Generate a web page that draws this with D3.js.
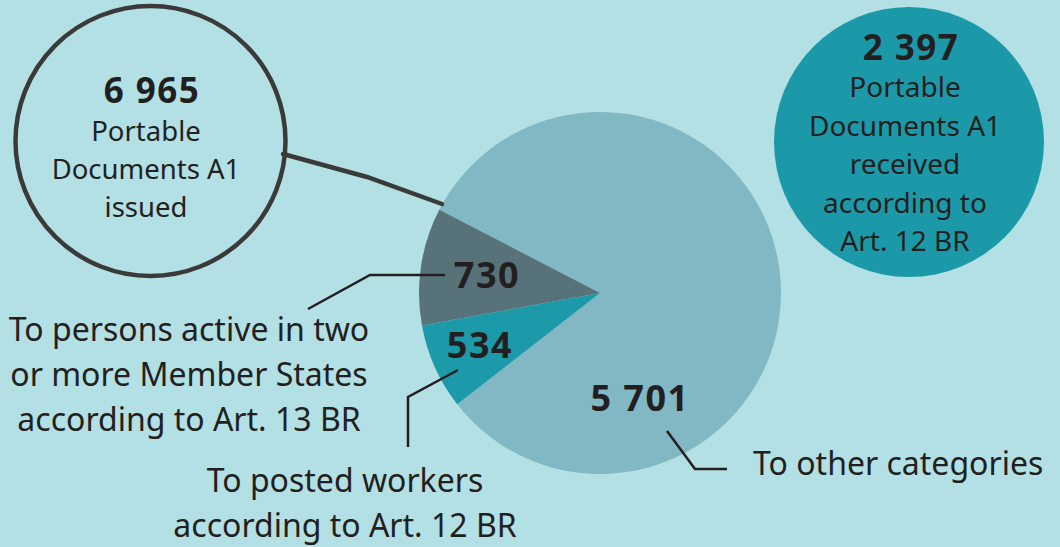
<!DOCTYPE html>
<html>
<head>
<meta charset="utf-8">
<script src="https://cdn.jsdelivr.net/npm/d3@7"></script>
<style>
  html, body { margin: 0; padding: 0; background: #b2e0e5; }
  svg { display: block; font-family: "Noto Sans", sans-serif; }
  .num { font-weight: 700; fill: #231f20; letter-spacing: 1.5px; }
  .lbl { fill: #231f20; }
</style>
</head>
<body>
<div id="chart"></div>
<script>
const categories = ["To other categories", "To posted workers according to Art. 12 BR", "To persons active in two or more Member States according to Art. 13 BR"];
const sliceValues = [5701, 534, 730];
const sliceColors = ["#82b8c4", "#1c9aa9", "#577379"];
const issuedTotal = 6965;
const receivedTotal = 2397;

const width = 1060;
const height = 547;
const cx = 600, cy = 293, radius = 181;

const fmt = d3.formatLocale({ decimal: ",", thousands: "\u00a0", grouping: [3], currency: ["", ""] }).format(",d");

const svg = d3.select("#chart")
    .append("svg")
    .attr("width", width)
    .attr("height", height);

svg.append("rect")
    .attr("width", width)
    .attr("height", height)
    .attr("fill", "#b2e0e5");

// pie: big slice starts at the upper-left edge, goes clockwise round
const start = 297.4 * Math.PI / 180;
const pie = d3.pie()
    .value(d => d)
    .sort(null)
    .startAngle(start)
    .endAngle(start + 2 * Math.PI);

const arc = d3.arc()
    .innerRadius(0)
    .outerRadius(radius);

const pieGroup = svg.append("g")
    .attr("transform", `translate(${cx}, ${cy})`);

pieGroup.selectAll("path")
    .data(pie(sliceValues))
    .enter()
    .append("path")
    .attr("d", arc)
    .attr("fill", (d, i) => sliceColors[i]);

// slice numbers
const numPos = [[640, 411], [480, 358], [487, 288]];
svg.selectAll(".slice-num")
    .data(sliceValues)
    .enter()
    .append("text")
    .attr("class", "num slice-num")
    .attr("x", (d, i) => numPos[i][0])
    .attr("y", (d, i) => numPos[i][1])
    .attr("text-anchor", "middle")
    .style("font-size", "36px")
    .text(d => fmt(d));

// left circle (issued)
svg.append("circle")
    .attr("cx", 150.5)
    .attr("cy", 141)
    .attr("r", 135)
    .attr("fill", "none")
    .attr("stroke", "#3a3a3a")
    .attr("stroke-width", 4.5);

svg.append("path")
    .attr("d", "M283,154 L367,177 L442,204")
    .attr("fill", "none")
    .attr("stroke", "#3a3a3a")
    .attr("stroke-width", 4.5)
    .attr("stroke-linecap", "round");

svg.append("text")
    .attr("class", "num")
    .attr("x", 152)
    .attr("y", 103)
    .attr("text-anchor", "middle")
    .style("font-size", "35px")
    .text(fmt(issuedTotal));

["Portable", "Documents A1", "issued"].forEach((t, i) => {
    svg.append("text")
        .attr("class", "lbl")
        .attr("x", 146)
        .attr("y", 141 + i * 38)
        .attr("text-anchor", "middle")
        .style("font-size", "27.5px")
        .text(t);
});

// right circle (received)
svg.append("circle")
    .attr("cx", 909)
    .attr("cy", 142)
    .attr("r", 135)
    .attr("fill", "#1c99a8");

svg.append("text")
    .attr("class", "num")
    .attr("x", 911)
    .attr("y", 60)
    .attr("text-anchor", "middle")
    .style("font-size", "35px")
    .text(fmt(receivedTotal));

["Portable", "Documents A1", "received", "according to", "Art. 12 BR"].forEach((t, i) => {
    svg.append("text")
        .attr("class", "lbl")
        .attr("x", 905)
        .attr("y", 97 + i * 38.5)
        .attr("text-anchor", "middle")
        .style("font-size", "28px")
        .text(t);
});

// leader lines
const leader = (d, w) => svg.append("path")
    .attr("d", d)
    .attr("fill", "none")
    .attr("stroke", "#231f20")
    .attr("stroke-width", w);

leader("M445,275 L370,275 L308,309", 2.5);
leader("M458,370 L408,397 L408,447", 2.5);
leader("M667,431 L695,469 L727,469", 2.5);

// category labels
const catLines = [
    { lines: ["To other categories"], x: 753, y: 475, anchor: "start" },
    { lines: ["To posted workers", "according to Art. 12 BR"], x: 345, y: 492, anchor: "middle" },
    { lines: ["To persons active in two", "or more Member States", "according to Art. 13 BR"], x: 189, y: 341, anchor: "middle" }
];

catLines.forEach((c, k) => {
    const t = svg.append("text")
        .attr("class", "lbl")
        .attr("text-anchor", c.anchor)
        .style("font-size", "32px")
        .attr("data-category", categories[k]);
    c.lines.forEach((line, i) => {
        t.append("tspan")
            .attr("x", c.x)
            .attr("y", c.y + i * 45)
            .text(line);
    });
});
</script>
</body>
</html>
